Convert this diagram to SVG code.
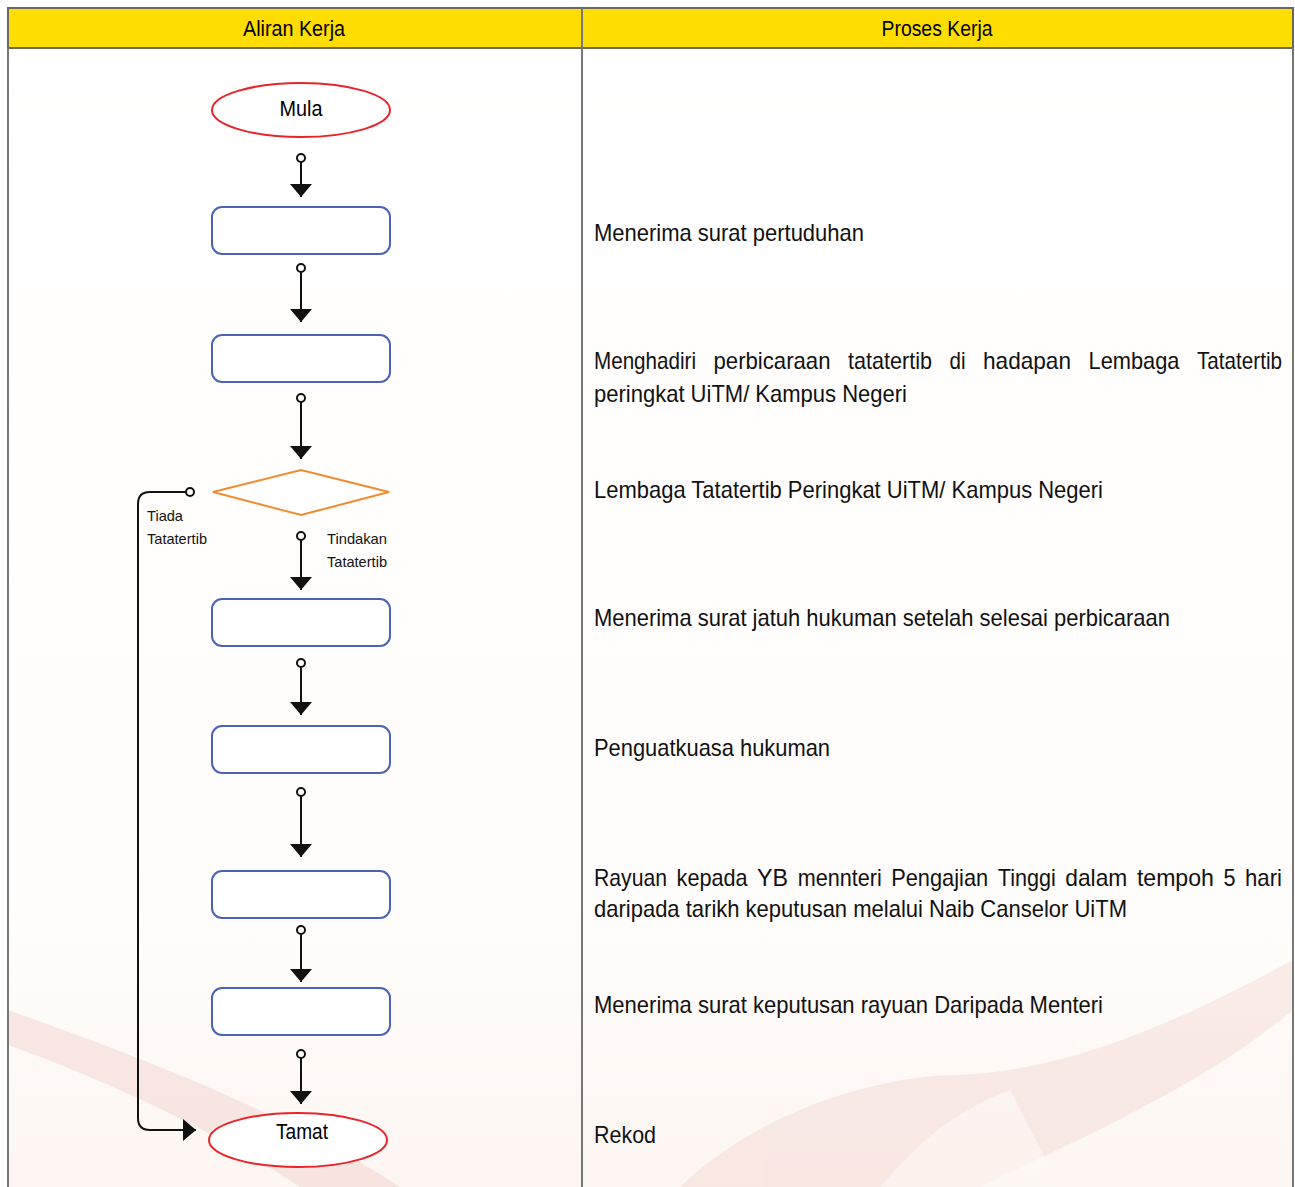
<svg xmlns="http://www.w3.org/2000/svg" width="1295" height="1187" viewBox="0 0 1295 1187">
<style>
.hdr{font-family:"Liberation Sans",Arial,sans-serif;font-size:22px;fill:#000;text-anchor:middle}
.txt{font-family:"Liberation Sans",Arial,sans-serif;font-size:24px;fill:#111}
.lbl{font-family:"Liberation Sans",Arial,sans-serif;font-size:15px;fill:#111}
.box{fill:#fff;stroke:#4a63b8;stroke-width:2}
.term{fill:#fff;stroke:#e8232a;stroke-width:2}
.dec{fill:#fff;stroke:#f28a2e;stroke-width:2}
.con{fill:none;stroke:#111;stroke-width:2}
.dot{fill:#fff;stroke:#111;stroke-width:2}
</style>
<defs>
<marker id="arr" viewBox="0 0 13 22" refX="13" refY="11" markerWidth="13" markerHeight="22" markerUnits="userSpaceOnUse" orient="auto">
<path d="M0,0 L13,11 L0,22 Z" fill="#111"/>
</marker>
<linearGradient id="bg" x1="0" y1="0" x2="0" y2="1">
<stop offset="0" stop-color="#ffffff"/>
<stop offset="0.75" stop-color="#fffdfb"/>
<stop offset="1" stop-color="#fdf6f2"/>
</linearGradient>
</defs>
<rect x="0" y="0" width="1295" height="1187" fill="#fff"/>
<rect x="8" y="48" width="1285" height="1139" fill="url(#bg)"/>
<g id="watermark" opacity="0.35">
<path d="M8,1010 C150,1060 300,1120 400,1187 L300,1187 C230,1140 120,1085 8,1045 Z" fill="#ecc3bd"/>
<path d="M680,1187 C760,1110 880,1075 960,1075 C1080,1070 1200,1010 1293,960 L1293,1010 C1210,1080 1100,1130 980,1187 Z" fill="#f1cdc4"/>
<path d="M880,1187 C930,1130 960,1110 1010,1090 L1060,1187 Z" fill="#fff" opacity="0.6"/>
</g>
<g id="table">
<rect x="8" y="8" width="1285" height="40" fill="#ffdd00" stroke="#6b6b55" stroke-width="2"/>
<line x1="582" y1="8" x2="582" y2="1187" stroke="#777" stroke-width="2"/>
<line x1="8" y1="48" x2="8" y2="1187" stroke="#777" stroke-width="2"/>
<line x1="1293" y1="48" x2="1293" y2="1187" stroke="#777" stroke-width="2"/>
<text class="hdr" x="294" y="36" textLength="102" lengthAdjust="spacingAndGlyphs">Aliran Kerja</text>
<text class="hdr" x="937" y="36" textLength="111" lengthAdjust="spacingAndGlyphs">Proses Kerja</text>
</g>
<g id="connectors">
<line class="con" x1="301" y1="162" x2="301" y2="197" marker-end="url(#arr)"/>
<circle class="dot" cx="301" cy="158" r="4"/>
<line class="con" x1="301" y1="272" x2="301" y2="322" marker-end="url(#arr)"/>
<circle class="dot" cx="301" cy="268" r="4"/>
<line class="con" x1="301" y1="402" x2="301" y2="459" marker-end="url(#arr)"/>
<circle class="dot" cx="301" cy="398" r="4"/>
<line class="con" x1="301" y1="540" x2="301" y2="590" marker-end="url(#arr)"/>
<circle class="dot" cx="301" cy="536" r="4"/>
<line class="con" x1="301" y1="667" x2="301" y2="715" marker-end="url(#arr)"/>
<circle class="dot" cx="301" cy="663" r="4"/>
<line class="con" x1="301" y1="796" x2="301" y2="857" marker-end="url(#arr)"/>
<circle class="dot" cx="301" cy="792" r="4"/>
<line class="con" x1="301" y1="934" x2="301" y2="982" marker-end="url(#arr)"/>
<circle class="dot" cx="301" cy="930" r="4"/>
<line class="con" x1="301" y1="1058" x2="301" y2="1104" marker-end="url(#arr)"/>
<circle class="dot" cx="301" cy="1054" r="4"/>
<path class="con" d="M186,492 L150,492 Q138,492 138,504 L138,1118 Q138,1130 150,1130 L196,1130" marker-end="url(#arr)"/>
<circle class="dot" cx="190" cy="492" r="4"/>
<text class="lbl" x="147" y="521" textLength="36" lengthAdjust="spacingAndGlyphs">Tiada</text>
<text class="lbl" x="147" y="544" textLength="60" lengthAdjust="spacingAndGlyphs">Tatatertib</text>
<text class="lbl" x="327" y="544" textLength="60" lengthAdjust="spacingAndGlyphs">Tindakan</text>
<text class="lbl" x="327" y="567" textLength="60" lengthAdjust="spacingAndGlyphs">Tatatertib</text>
</g>
<g id="mula">
<ellipse class="term" cx="301" cy="110" rx="89" ry="27"/>
<text class="hdr" x="301" y="116" textLength="43" lengthAdjust="spacingAndGlyphs">Mula</text>
</g>
<g id="step1"><rect class="box" x="212" y="207" width="178" height="47" rx="10"/></g>
<g id="step2"><rect class="box" x="212" y="335" width="178" height="47" rx="10"/></g>
<g id="decision"><polygon class="dec" points="213,492 301,470 389,492 301,515"/></g>
<g id="step3"><rect class="box" x="212" y="599" width="178" height="47" rx="10"/></g>
<g id="step4"><rect class="box" x="212" y="726" width="178" height="47" rx="10"/></g>
<g id="step5"><rect class="box" x="212" y="871" width="178" height="47" rx="10"/></g>
<g id="step6"><rect class="box" x="212" y="988" width="178" height="47" rx="10"/></g>
<g id="tamat">
<ellipse class="term" cx="298" cy="1140" rx="89" ry="27"/>
<text class="hdr" x="302" y="1139" textLength="52" lengthAdjust="spacingAndGlyphs">Tamat</text>
</g>
<g id="proses">
<text class="txt" x="594" y="241" textLength="270" lengthAdjust="spacingAndGlyphs">Menerima surat pertuduhan</text>
<g id="line-menghadiri">
<text class="txt" x="594" y="369" textLength="102" lengthAdjust="spacingAndGlyphs">Menghadiri</text>
<text class="txt" x="713.5" y="369" textLength="117" lengthAdjust="spacingAndGlyphs">perbicaraan</text>
<text class="txt" x="848" y="369" textLength="84" lengthAdjust="spacingAndGlyphs">tatatertib</text>
<text class="txt" x="949.5" y="369" textLength="16" lengthAdjust="spacingAndGlyphs">di</text>
<text class="txt" x="983" y="369" textLength="88" lengthAdjust="spacingAndGlyphs">hadapan</text>
<text class="txt" x="1088.5" y="369" textLength="91" lengthAdjust="spacingAndGlyphs">Lembaga</text>
<text class="txt" x="1197" y="369" textLength="85" lengthAdjust="spacingAndGlyphs">Tatatertib</text>
</g>
<text class="txt" x="594" y="402" textLength="313" lengthAdjust="spacingAndGlyphs">peringkat UiTM/ Kampus Negeri</text>
<text class="txt" x="594" y="498" textLength="509" lengthAdjust="spacingAndGlyphs">Lembaga Tatatertib Peringkat UiTM/ Kampus Negeri</text>
<text class="txt" x="594" y="626" textLength="576" lengthAdjust="spacingAndGlyphs">Menerima surat jatuh hukuman setelah selesai perbicaraan</text>
<text class="txt" x="594" y="756" textLength="236" lengthAdjust="spacingAndGlyphs">Penguatkuasa hukuman</text>
<g id="line-rayuan">
<text class="txt" x="594" y="886" textLength="73" lengthAdjust="spacingAndGlyphs">Rayuan</text>
<text class="txt" x="676.6" y="886" textLength="71" lengthAdjust="spacingAndGlyphs">kepada</text>
<text class="txt" x="757.1" y="886" textLength="31" lengthAdjust="spacingAndGlyphs">YB</text>
<text class="txt" x="797.7" y="886" textLength="84" lengthAdjust="spacingAndGlyphs">mennteri</text>
<text class="txt" x="891.2" y="886" textLength="97" lengthAdjust="spacingAndGlyphs">Pengajian</text>
<text class="txt" x="997.8" y="886" textLength="58" lengthAdjust="spacingAndGlyphs">Tinggi</text>
<text class="txt" x="1065.3" y="886" textLength="62" lengthAdjust="spacingAndGlyphs">dalam</text>
<text class="txt" x="1136.9" y="886" textLength="77" lengthAdjust="spacingAndGlyphs">tempoh</text>
<text class="txt" x="1223.4" y="886" textLength="12" lengthAdjust="spacingAndGlyphs">5</text>
<text class="txt" x="1245" y="886" textLength="37" lengthAdjust="spacingAndGlyphs">hari</text>
</g>
<text class="txt" x="594" y="917" textLength="533" lengthAdjust="spacingAndGlyphs">daripada tarikh keputusan melalui Naib Canselor UiTM</text>
<text class="txt" x="594" y="1013" textLength="509" lengthAdjust="spacingAndGlyphs">Menerima surat keputusan rayuan Daripada Menteri</text>
<text class="txt" x="594" y="1143" textLength="62" lengthAdjust="spacingAndGlyphs">Rekod</text>
</g>
</svg>
